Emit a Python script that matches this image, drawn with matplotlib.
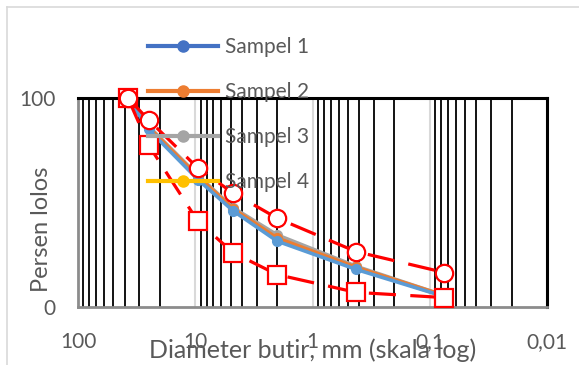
import matplotlib
matplotlib.use("Agg")
import matplotlib.pyplot as plt
from matplotlib.lines import Line2D
from matplotlib.ticker import FixedLocator, LogLocator, NullFormatter

plt.rcParams['font.family'] = ['Lato', 'DejaVu Sans']

# ukuran saringan (mm) dan persen lolos
saringan = [37.5, 25, 9.5, 4.75, 2.0, 0.425, 0.075]
sampel1 = [100, 85, 61, 46, 31.5, 18, 5]
sampel2 = [100, 86, 62.5, 47, 33, 19, 5.5]
sampel3 = [100, 86.5, 63, 47.5, 34.5, 19.5, 5.5]
sampel4 = [100, 86, 62, 47, 33, 19, 5]
batas_atas = [100, 89.5, 66.5, 54.5, 42.5, 26.5, 16.5]
batas_bawah = [100, 77.5, 41, 26, 15.5, 7, 4.5]

nama = ['Sampel 1', 'Sampel 2', 'Sampel 3', 'Sampel 4']
warna_garis = ['#5B9BD5', '#ED7D31', '#A5A5A5', '#FFC000']
warna_legend = ['#4472C4', '#ED7D31', '#A5A5A5', '#FFC000']
x_ticks = [100, 10, 1, 0.1, 0.01]
x_labels = ['100', '10', '1', '0,1', '0,01']

W, H = 579, 365
fig = plt.figure(figsize=(W / 100, H / 100), dpi=100)
ax = fig.add_axes([78 / W, 1 - 307 / H, (547 - 78) / W, (307 - 98) / H])

ax.set_xscale('log')
ax.set_xlim(100, 0.01)
ax.set_ylim(0, 100)

# grid
ax.xaxis.set_major_locator(FixedLocator(x_ticks))
ax.xaxis.set_minor_locator(LogLocator(base=10, subs=range(2, 10)))
ax.xaxis.set_minor_formatter(NullFormatter())
ax.set_xticks(x_ticks)
ax.set_xticklabels(x_labels)
ax.set_yticks([0, 100])
ax.grid(which='minor', axis='x', color='black', lw=1.3, zorder=0)
ax.grid(which='major', axis='x', color='#D9D9D9', lw=1.5, zorder=0)
ax.tick_params(which='both', length=0)
ax.tick_params(axis='x', pad=18, labelsize=15, labelcolor='#595959')
ax.tick_params(axis='y', pad=16, labelsize=15, labelcolor='#595959')

for s in ['top', 'right']:
    ax.spines[s].set_color('black')
    ax.spines[s].set_linewidth(2.2)
ax.spines['left'].set_color('#8C8C8C')
ax.spines['left'].set_linewidth(2)
ax.spines['bottom'].set_color('#8C8C8C')
ax.spines['bottom'].set_linewidth(2)

data = [sampel1, sampel2, sampel3, sampel4]
for i in [3, 2, 1, 0]:
    ax.plot(saringan, data[i], color=warna_garis[i], lw=2.6, marker='o',
            ms=7, zorder=3 + (3 - i) * 0.1, clip_on=False)

# batas bawah dulu, lingkaran batas atas di atasnya
for vals, mk, ms in [(batas_bawah, 's', 13), (batas_atas, 'o', 12.5)]:
    ln, = ax.plot(saringan, vals, color='red', lw=2.3, marker=mk, ms=ms,
                  mfc='white', mec='red', mew=1.6, zorder=5, clip_on=False)
    ln.set_dashes([8.5, 4.5])

ax.set_xlabel('Diameter butir, mm (skala log)', fontsize=18, color='#595959')
ax.xaxis.set_label_coords(0.5, -0.15)
ax.set_ylabel('Persen lolos', fontsize=17, color='#595959')
ax.yaxis.set_label_coords(-0.055, 0.373)

handles = [Line2D([], [], color=c, lw=3, marker='o', ms=8) for c in warna_legend]
leg = fig.legend(handles, nama, loc='upper left',
                 bbox_to_anchor=(148 / W, 1 - 37 / H), frameon=False,
                 fontsize=15, handlelength=3.36, handletextpad=0.33,
                 labelspacing=1.2, borderpad=0, borderaxespad=0,
                 labelcolor='#595959')
leg.set_zorder(10)

# bingkai area grafik
fig.add_artist(Line2D([7 / W, 7 / W], [0, 1 - 7 / H], color='#D9D9D9', lw=1.2))
fig.add_artist(Line2D([7 / W, 1], [1 - 7 / H, 1 - 7 / H], color='#D9D9D9', lw=1.2))

fig.savefig('out.png', dpi=100)
